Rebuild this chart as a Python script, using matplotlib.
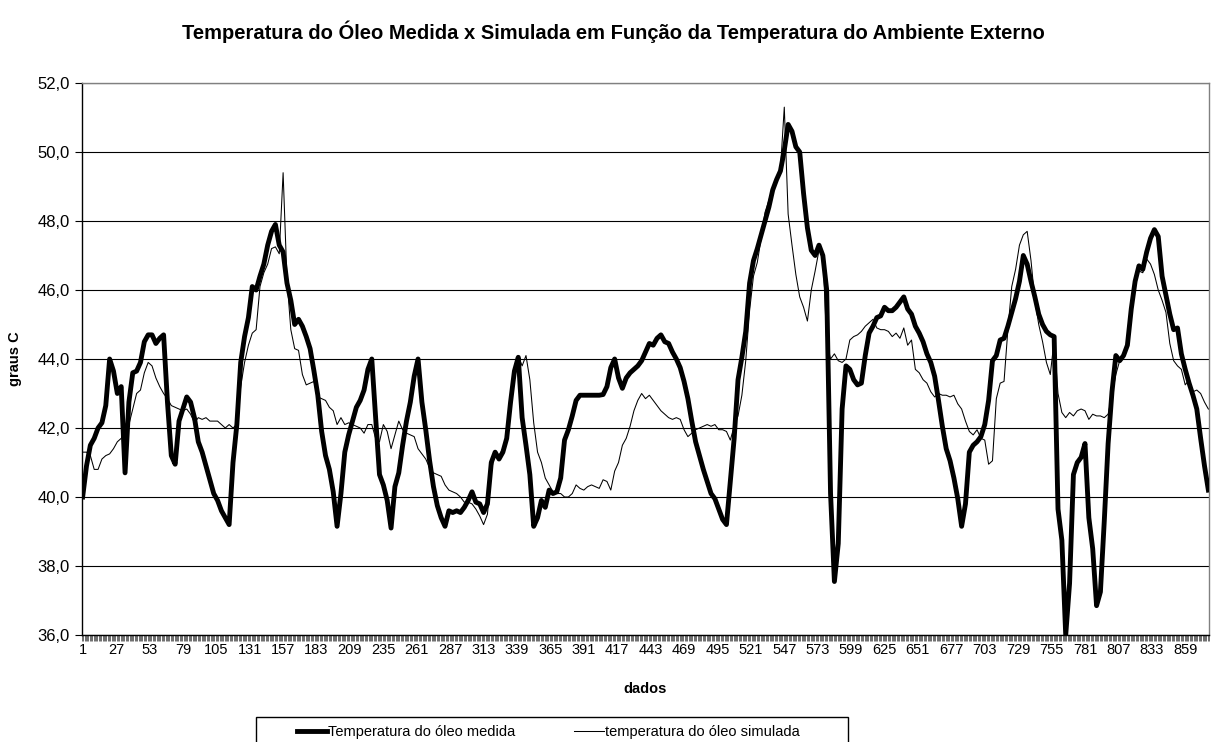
import numpy as np
import matplotlib
matplotlib.use("Agg")
import matplotlib.pyplot as plt
from matplotlib.lines import Line2D
from matplotlib.patches import Rectangle

plt.rcParams['font.family'] = ['Liberation Sans', 'DejaVu Sans']

title = "Temperatura do Óleo Medida x Simulada em Função da Temperatura do Ambiente Externo"
series_names = ["Temperatura do óleo medida", "temperatura do óleo simulada"]
x_label = "dados"
y_label = "graus C"

# sample index (every 3rd data point, 1..877)
dados = list(range(1, 878, 3))

medida = [
    40.0, 40.9, 41.5, 41.7, 42.0, 42.15, 42.65, 44.0, 43.65, 43.0, 43.2, 40.7, 42.75, 43.6, 43.65, 43.9,
    44.5, 44.7, 44.7, 44.45, 44.6, 44.7, 42.75, 41.2, 40.95, 42.2, 42.55, 42.9, 42.75, 42.3, 41.6, 41.3,
    40.9, 40.5, 40.1, 39.9, 39.6, 39.4, 39.2, 41.0, 42.1, 43.9, 44.65, 45.2, 46.1, 46.0, 46.4, 46.75, 47.3,
    47.7, 47.9, 47.3, 47.1, 46.2, 45.7, 45.0, 45.15, 44.95, 44.65, 44.3, 43.65, 42.95, 41.9, 41.2, 40.8,
    40.15, 39.15, 40.1, 41.3, 41.8, 42.2, 42.6, 42.8, 43.1, 43.7, 44.0, 42.3, 40.65, 40.35, 39.9, 39.1,
    40.3, 40.7, 41.5, 42.2, 42.75, 43.5, 44.0, 42.75, 41.95, 41.05, 40.3, 39.75, 39.4, 39.15, 39.6, 39.55, 39.6,
    39.55, 39.7, 39.9, 40.15, 39.85, 39.8, 39.55, 39.8, 41.0, 41.3, 41.1, 41.3, 41.7, 42.75, 43.65, 44.05,
    42.3, 41.5, 40.65, 39.15, 39.4, 39.9, 39.7, 40.2, 40.1, 40.15, 40.55, 41.65, 41.95, 42.35, 42.8, 42.95,
    42.95, 42.95, 42.95, 42.95, 42.95, 42.97, 43.2, 43.75, 44.0, 43.45, 43.15, 43.45, 43.6, 43.7, 43.8, 43.95,
    44.2, 44.45, 44.4, 44.6, 44.7, 44.5, 44.45, 44.2, 44.0, 43.75, 43.35, 42.85, 42.2, 41.6, 41.2, 40.8,
    40.45, 40.1, 39.95, 39.65, 39.35, 39.2, 40.45, 41.7, 43.4, 44.05, 44.8, 46.2, 46.85, 47.2, 47.6, 48.0,
    48.4, 48.9, 49.2, 49.45, 50.05, 50.8, 50.6, 50.15, 50.0, 48.8, 47.8, 47.15, 47.0, 47.3, 47.0, 46.0, 40.1,
    37.55, 38.65, 42.55, 43.8, 43.7, 43.4, 43.25, 43.3, 44.1, 44.75, 44.95, 45.2, 45.25, 45.5, 45.4, 45.4,
    45.5, 45.65, 45.8, 45.45, 45.3, 44.95, 44.75, 44.5, 44.15, 43.9, 43.5, 42.8, 42.05, 41.4, 41.05, 40.55,
    39.95, 39.15, 39.8, 41.3, 41.5, 41.6, 41.75, 42.1, 42.8, 43.95, 44.1, 44.55, 44.6, 44.95, 45.35, 45.75,
    46.25, 47.0, 46.75, 46.25, 45.8, 45.3, 45.0, 44.8, 44.7, 44.65, 39.65, 38.75, 36.0, 37.5, 40.65, 41.0,
    41.15, 41.55, 39.4, 38.5, 36.85, 37.25, 39.3, 41.55, 43.05, 44.1, 43.95, 44.1, 44.4, 45.45, 46.25, 46.7,
    46.6, 47.1, 47.5, 47.75, 47.55, 46.4, 45.85, 45.3, 44.85, 44.9, 44.15, 43.7, 43.3, 42.95, 42.55, 41.7,
    40.9, 40.2,
]

simulada = [
    41.3, 41.3, 41.2, 40.8, 40.8, 41.1, 41.2, 41.25, 41.4, 41.6, 41.7, 41.9, 42.1, 42.55, 43.0, 43.1,
    43.6, 43.9, 43.8, 43.45, 43.2, 43.0, 42.85, 42.65, 42.6, 42.55, 42.5, 42.55, 42.4, 42.15, 42.3, 42.25,
    42.3, 42.2, 42.2, 42.2, 42.1, 42.0, 42.1, 42.0, 42.1, 43.2, 43.9, 44.4, 44.75, 44.85, 46.1, 46.5, 46.75,
    47.2, 47.25, 47.05, 49.4, 46.3, 44.85, 44.3, 44.25, 43.55, 43.25, 43.3, 43.35, 42.9, 42.85, 42.8, 42.6,
    42.5, 42.1, 42.3, 42.1, 42.15, 42.1, 42.05, 42.0, 41.85, 42.1, 42.1, 41.7, 41.6, 42.1, 41.9, 41.4,
    41.8, 42.2, 41.95, 41.85, 41.8, 41.75, 41.4, 41.25, 41.1, 40.85, 40.7, 40.65, 40.6, 40.35, 40.2, 40.15, 40.1,
    40.0, 39.85, 39.85, 39.8, 39.65, 39.45, 39.2, 39.5, 40.75, 41.3, 41.2, 41.4, 41.75, 42.55, 43.65, 44.1,
    43.8, 44.1, 43.4, 42.15, 41.3, 41.0, 40.55, 40.35, 40.15, 40.1, 40.1, 40.0, 40.0, 40.1, 40.35, 40.25,
    40.2, 40.3, 40.35, 40.3, 40.25, 40.5, 40.45, 40.2, 40.75, 41.0, 41.5, 41.7, 42.05, 42.5, 42.8, 43.0,
    42.85, 42.95, 42.8, 42.65, 42.5, 42.4, 42.3, 42.25, 42.3, 42.25, 41.95, 41.75, 41.85, 41.95, 42.0, 42.05,
    42.1, 42.05, 42.1, 41.95, 41.95, 41.9, 41.65, 42.05, 42.35, 42.95, 43.95, 45.4, 46.4, 46.8, 47.5, 48.25,
    48.6, 48.95, 49.2, 49.5, 51.3, 48.2, 47.3, 46.45, 45.8, 45.5, 45.1, 46.0, 46.55, 47.15, 47.05, 44.5, 44.0,
    44.15, 43.95, 43.9, 44.0, 44.55, 44.65, 44.7, 44.8, 44.95, 45.05, 45.15, 44.9, 44.85, 44.85, 44.8, 44.65,
    44.75, 44.6, 44.9, 44.4, 44.55, 43.7, 43.6, 43.4, 43.3, 43.05, 42.9, 43.0, 42.95, 42.95, 42.9, 42.95,
    42.7, 42.55, 42.2, 41.9, 41.8, 41.95, 41.7, 41.65, 40.95, 41.05, 42.85, 43.3, 43.35, 44.85, 46.1, 46.6,
    47.3, 47.6, 47.7, 46.85, 45.7, 45.0, 44.5, 43.9, 43.55, 44.55, 43.0, 42.45, 42.3, 42.45, 42.35, 42.5,
    42.55, 42.5, 42.25, 42.4, 42.35, 42.35, 42.3, 42.4, 42.95, 43.55, 43.95, 44.1, 44.4, 45.4, 46.4, 46.55,
    46.5, 46.9, 46.75, 46.45, 46.0, 45.7, 45.35, 44.45, 43.95, 43.8, 43.7, 43.25, 43.4, 43.05, 43.1, 43.0,
    42.75, 42.55,
]

n_points = 877
y_ticks = [36, 38, 40, 42, 44, 46, 48, 50, 52]
y_tick_labels = ["36,0", "38,0", "40,0", "42,0", "44,0", "46,0", "48,0", "50,0", "52,0"]
x_ticks = list(range(1, 860, 26))
x_tick_labels = [str(v) for v in x_ticks]

W, H = 1227, 742
fig = plt.figure(figsize=(W / 100, H / 100), dpi=100)
fig.patch.set_facecolor("white")
ax = fig.add_axes([82 / W, 1 - 635 / H, 1127 / W, 552 / H])

ax.plot(dados, medida, color="black", lw=3.5, solid_joinstyle="round", zorder=3)
ax.plot(dados, simulada, color="black", lw=0.75, zorder=4)

ax.set_xlim(0.5, n_points + 0.5)
ax.set_ylim(36, 52)

ax.set_yticks(y_ticks)
ax.set_yticklabels(y_tick_labels, fontsize=12)
ax.tick_params(axis="y", direction="out", length=5, width=0.8, pad=4)

ax.set_xticks(x_ticks)
ax.set_xticklabels(x_tick_labels, fontsize=10.5)
ax.tick_params(axis="x", which="major", length=0, pad=6)
ax.set_xticks(np.arange(0.5, n_points + 1, 1), minor=True)
ax.tick_params(axis="x", which="minor", direction="out", length=4, width=0.5, color="#333333")

ax.yaxis.grid(True, color="black", lw=0.8)
ax.set_axisbelow(True)
for s in ["left", "bottom"]:
    ax.spines[s].set_color("black")
    ax.spines[s].set_linewidth(1.0)
for s in ["top", "right"]:
    ax.spines[s].set_color("#808080")
    ax.spines[s].set_linewidth(1.0)

ax.set_ylabel(y_label, fontsize=10.5, fontweight="bold")
ax.yaxis.set_label_coords((15 - 82) / 1127, 0.5)
ax.yaxis.label.set_va("center")
ax.set_xlabel(x_label, fontsize=10.5, fontweight="bold")
ax.xaxis.set_label_coords(0.5, (635 - 689) / 552)
ax.xaxis.label.set_va("center")

fig.text(0.5, 1 - 32 / H, title, ha="center", va="center", fontsize=14.5, fontweight="bold")

# legend box (extends past the bottom edge as in the reference)
box = Rectangle((256 / W, -0.05), 592 / W, (H - 717) / H + 0.05, transform=fig.transFigure,
                fill=False, edgecolor="black", lw=1.0, clip_on=False)
fig.add_artist(box)
handles = [Line2D([], [], color="black", lw=3.5), Line2D([], [], color="black", lw=0.75)]
fig.legend(handles, series_names, loc="upper left", bbox_to_anchor=(297 / W, 1 - 725 / H),
           ncol=2, frameon=False, fontsize=10.5, borderpad=0, borderaxespad=0,
           handlelength=2.05, handletextpad=0.1, columnspacing=4.0)

fig.savefig("out.png", dpi=100, facecolor="white")
